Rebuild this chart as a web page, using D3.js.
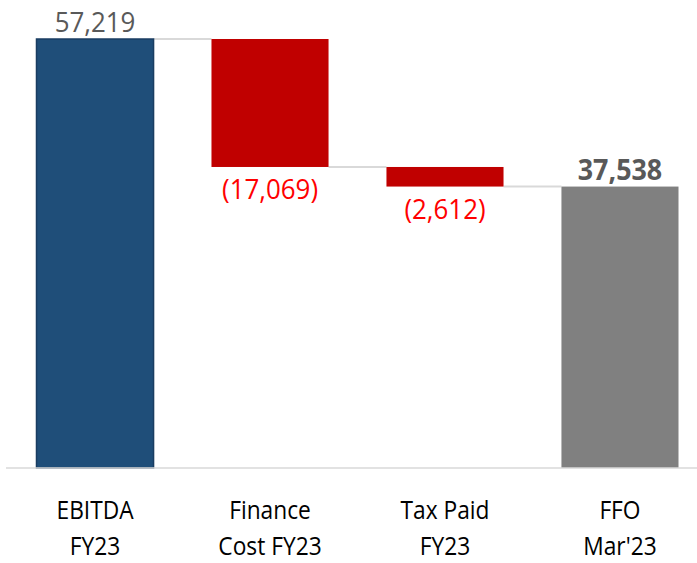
<!DOCTYPE html>
<html>
<head>
<meta charset="utf-8">
<script src="https://cdn.jsdelivr.net/npm/d3@7"></script>
<style>
  html, body { margin: 0; padding: 0; background: #ffffff; }
  svg { display: block; }
  text { font-family: "Open Sans", "Noto Sans", sans-serif; }
</style>
</head>
<body>
<svg id="chart" width="697" height="563"></svg>
<script>
// ---- data ----
const categories = ["EBITDA FY23", "Finance Cost FY23", "Tax Paid FY23", "FFO Mar'23"];
const categoryLines = [["EBITDA", "FY23"], ["Finance", "Cost FY23"], ["Tax Paid", "FY23"], ["FFO", "Mar'23"]];
const values = [57219, -17069, -2612, 37538];
const kinds = ["total", "delta", "delta", "total"];
const valueLabels = ["57,219", "(17,069)", "(2,612)", "37,538"];

// ---- layout ----
const W = 697, H = 563;
const baseY = 468, topY = 39;
const svg = d3.select("#chart");

// waterfall computation
let running = 0;
const rows = categories.map((c, i) => {
  let start, end;
  if (kinds[i] === "total") { start = 0; end = values[i]; running = values[i]; }
  else { start = running; end = running + values[i]; running = end; }
  return { cat: c, lines: categoryLines[i], value: values[i], kind: kinds[i], start, end, label: valueLabels[i], idx: i };
});

const x = d3.scaleBand().domain(categories).range([12, 703]).paddingInner(0.331).paddingOuter(0.14);
const y = d3.scaleLinear().domain([0, d3.max(values)]).range([baseY, topY]);

const colors = ["#1F4E79", "#C00000", "#C00000", "#808080"];

// connectors
for (let i = 0; i < rows.length - 1; i++) {
  const level = rows[i].end;
  svg.append("line")
    .attr("x1", x(rows[i].cat) + x.bandwidth())
    .attr("x2", x(rows[i + 1].cat))
    .attr("y1", y(level)).attr("y2", y(level))
    .attr("stroke", "#d9d9d9").attr("stroke-width", 2);
}

// bars
svg.selectAll("rect.bar").data(rows).enter().append("rect")
  .attr("class", "bar")
  .attr("x", d => x(d.cat))
  .attr("width", x.bandwidth())
  .attr("y", d => y(Math.max(d.start, d.end)))
  .attr("height", d => Math.abs(y(d.start) - y(d.end)))
  .attr("fill", (d, i) => colors[i])
  .attr("stroke", (d, i) => i === 0 ? "#1a3d61" : "none")
  .attr("stroke-width", 1.5);

// axis baseline
const xAxis = d3.axisBottom(x).tickSize(0).tickFormat("");
const axisG = svg.append("g").attr("transform", `translate(0,${baseY})`).call(xAxis);
axisG.select(".domain").attr("d", `M6,0H${W}`).attr("stroke", "#d9d9d9").attr("stroke-width", 1.5);

// category labels
const catG = svg.append("g");
rows.forEach(d => {
  const cx = x(d.cat) + x.bandwidth() / 2;
  const g = catG.append("g").attr("transform", `translate(${cx},0) scale(0.91,1)`);
  const t = g.append("text")
    .attr("x", 0)
    .attr("text-anchor", "middle")
    .attr("font-size", 25)
    .attr("fill", "#000000");
  d.lines.forEach((ln, j) => {
    t.append("tspan").attr("x", 0).attr("y", 519 + j * 36).text(ln);
  });
});

// value labels
rows.forEach((d, i) => {
  const cx = x(d.cat) + x.bandwidth() / 2;
  const g = svg.append("g").attr("transform", `translate(${cx},0) scale(0.96,1)`);
  const t = g.append("text").attr("x", 0).attr("text-anchor", "middle").attr("font-size", 27).text(d.label);
  if (d.kind === "total") {
    t.attr("y", y(d.end) - 7).attr("fill", "#595959");
    if (i === rows.length - 1) t.attr("font-weight", "bold").attr("font-size", 28);
  } else {
    t.attr("y", y(Math.min(d.start, d.end)) + 32).attr("fill", "#FF0000");
  }
});
</script>
</body>
</html>
